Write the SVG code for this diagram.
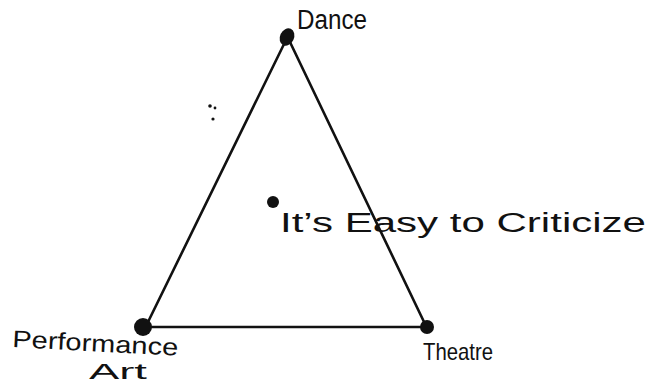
<svg xmlns="http://www.w3.org/2000/svg" width="653" height="392" viewBox="0 0 653 392">
<style>
.edge{stroke:#111;stroke-width:2.6;fill:none;stroke-linecap:round}
.dot{fill:#111}
.lbl{font-family:"Liberation Sans",Arial,sans-serif;fill:#111}
</style>
<rect width="653" height="392" fill="#fff"/>
<g id="connectors">
<path class="edge" d="M286,40 L148,322"/>
<path class="edge" d="M289,40 L425,324"/>
<path class="edge" d="M150,327 L424,327"/>
</g>
<g id="dance">
<ellipse class="dot" cx="287" cy="37" rx="7" ry="9" transform="rotate(25 287 37)"/>
<text class="lbl" x="297" y="29" font-size="27" textLength="70" lengthAdjust="spacingAndGlyphs">Dance</text>
</g>
<g id="performance-art">
<circle class="dot" cx="143" cy="327" r="9"/>
<text class="lbl" x="12" y="347" font-size="24" textLength="166" lengthAdjust="spacingAndGlyphs" transform="rotate(3 12 347)">Performance</text>
<text class="lbl" x="89" y="379" font-size="22" textLength="58" lengthAdjust="spacingAndGlyphs">Art</text>
</g>
<g id="theatre">
<circle class="dot" cx="427" cy="327" r="7"/>
<text class="lbl" x="423" y="360" font-size="24" textLength="70" lengthAdjust="spacingAndGlyphs">Theatre</text>
</g>
<g id="criticize">
<circle class="dot" cx="273" cy="202" r="6"/>
<text class="lbl" x="280" y="232" font-size="27" textLength="366" lengthAdjust="spacingAndGlyphs">It’s Easy to Criticize</text>
</g>
<g id="marks">
<circle class="dot" cx="210" cy="106" r="1.8"/>
<circle class="dot" cx="215" cy="108" r="1.4"/>
<circle class="dot" cx="213" cy="119" r="1.6"/>
</g>
</svg>
